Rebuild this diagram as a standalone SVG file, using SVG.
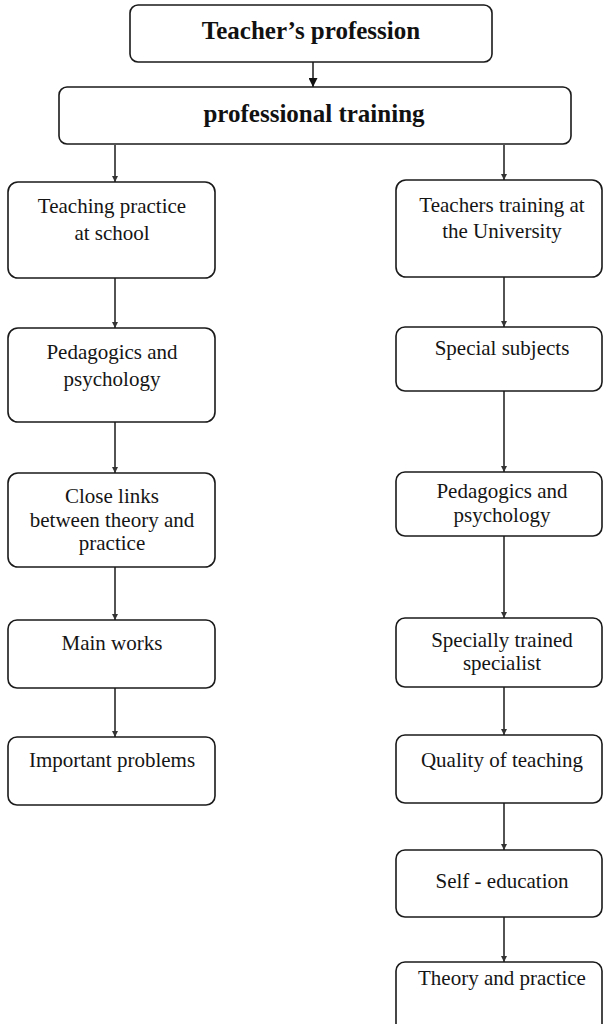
<svg xmlns="http://www.w3.org/2000/svg" width="604" height="1024" viewBox="0 0 604 1024">
  <style>
    .box { fill: none; stroke: #1a1a1a; stroke-width: 1.6; }
    .lbl { font-family: "Liberation Serif", "Times New Roman", serif; font-size: 21px; fill: #151515; text-anchor: middle; }
    .head { font-family: "Liberation Serif", "Times New Roman", serif; font-size: 25px; font-weight: bold; fill: #111; text-anchor: middle; }
    .wire { stroke: #1a1a1a; stroke-width: 1.5; fill: none; }
  </style>
  <defs>
    <marker id="bigArrow" viewBox="0 0 10 10" refX="10" refY="5" markerWidth="9" markerHeight="9" markerUnits="userSpaceOnUse" orient="auto">
      <path d="M0,0 L10,5 L0,10 z" fill="#111"/>
    </marker>
    <marker id="tick" viewBox="0 0 10 10" refX="10" refY="5" markerWidth="6" markerHeight="6" markerUnits="userSpaceOnUse" orient="auto">
      <path d="M0,0 L10,5 L0,10 z" fill="#333"/>
    </marker>
  </defs>

  <rect width="604" height="1024" fill="#ffffff"/>

  <!-- connectors -->
  <g id="connectors">
    <line class="wire" x1="313" y1="62" x2="313" y2="87" marker-end="url(#bigArrow)"/>
    <!-- left branch -->
    <line class="wire" x1="115" y1="145" x2="115" y2="182" marker-end="url(#tick)"/>
    <line class="wire" x1="115" y1="278" x2="115" y2="328" marker-end="url(#tick)"/>
    <line class="wire" x1="115" y1="422" x2="115" y2="473" marker-end="url(#tick)"/>
    <line class="wire" x1="115" y1="567" x2="115" y2="620" marker-end="url(#tick)"/>
    <line class="wire" x1="115" y1="688" x2="115" y2="737" marker-end="url(#tick)"/>
    <!-- right branch -->
    <line class="wire" x1="504" y1="145" x2="504" y2="180" marker-end="url(#tick)"/>
    <line class="wire" x1="504" y1="277" x2="504" y2="327" marker-end="url(#tick)"/>
    <line class="wire" x1="504" y1="391" x2="504" y2="472" marker-end="url(#tick)"/>
    <line class="wire" x1="504" y1="536" x2="504" y2="618" marker-end="url(#tick)"/>
    <line class="wire" x1="504" y1="687" x2="504" y2="735" marker-end="url(#tick)"/>
    <line class="wire" x1="504" y1="803" x2="504" y2="850" marker-end="url(#tick)"/>
    <line class="wire" x1="504" y1="917" x2="504" y2="962" marker-end="url(#tick)"/>
  </g>

  <!-- top -->
  <g id="teachers-profession">
    <rect class="box" x="130" y="5" width="362" height="57" rx="8"/>
    <text class="head" x="311" y="39">Teacher’s profession</text>
  </g>
  <g id="professional-training">
    <rect class="box" x="59" y="87" width="512" height="57" rx="8"/>
    <text class="head" x="314" y="122">professional training</text>
  </g>

  <!-- left column -->
  <g id="teaching-practice">
    <rect class="box" x="8" y="182" width="207" height="96" rx="10"/>
    <text class="lbl" x="112" y="213">Teaching practice</text>
    <text class="lbl" x="112" y="240">at school</text>
  </g>
  <g id="pedagogics-left">
    <rect class="box" x="8" y="328" width="207" height="94" rx="10"/>
    <text class="lbl" x="112" y="359">Pedagogics and</text>
    <text class="lbl" x="112" y="386">psychology</text>
  </g>
  <g id="close-links">
    <rect class="box" x="8" y="473" width="207" height="94" rx="10"/>
    <text class="lbl" x="112" y="503">Close links</text>
    <text class="lbl" x="112" y="527">between theory and</text>
    <text class="lbl" x="112" y="550">practice</text>
  </g>
  <g id="main-works">
    <rect class="box" x="8" y="620" width="207" height="68" rx="9"/>
    <text class="lbl" x="112" y="650">Main works</text>
  </g>
  <g id="important-problems">
    <rect class="box" x="8" y="737" width="207" height="68" rx="9"/>
    <text class="lbl" x="112" y="767">Important problems</text>
  </g>

  <!-- right column -->
  <g id="university-training">
    <rect class="box" x="396" y="180" width="206" height="97" rx="10"/>
    <text class="lbl" x="502" y="212">Teachers training at</text>
    <text class="lbl" x="502" y="238">the University</text>
  </g>
  <g id="special-subjects">
    <rect class="box" x="396" y="327" width="206" height="64" rx="9"/>
    <text class="lbl" x="502" y="355">Special subjects</text>
  </g>
  <g id="pedagogics-right">
    <rect class="box" x="396" y="472" width="206" height="64" rx="9"/>
    <text class="lbl" x="502" y="498">Pedagogics and</text>
    <text class="lbl" x="502" y="522">psychology</text>
  </g>
  <g id="trained-specialist">
    <rect class="box" x="396" y="618" width="206" height="69" rx="9"/>
    <text class="lbl" x="502" y="647">Specially trained</text>
    <text class="lbl" x="502" y="670">specialist</text>
  </g>
  <g id="quality-of-teaching">
    <rect class="box" x="396" y="735" width="206" height="68" rx="9"/>
    <text class="lbl" x="502" y="767">Quality of teaching</text>
  </g>
  <g id="self-education">
    <rect class="box" x="396" y="850" width="206" height="67" rx="9"/>
    <text class="lbl" x="502" y="888">Self - education</text>
  </g>
  <g id="theory-and-practice">
    <rect class="box" x="396" y="962" width="206" height="80" rx="9"/>
    <text class="lbl" x="502" y="985">Theory and practice</text>
  </g>
</svg>
